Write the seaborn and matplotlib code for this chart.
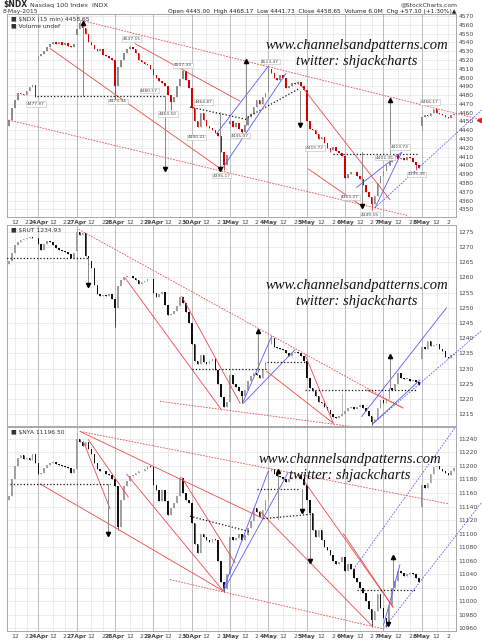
import numpy as np
import pandas as pd
import matplotlib
matplotlib.use("Agg")
import matplotlib.pyplot as plt
import seaborn as sns

# =====================================
# Data (30-min bars, 13 per session, bar 0 = 23Apr 9:30)
# =====================================
DAYS = ['23Apr', '24Apr', '27Apr', '28Apr', '29Apr', '30Apr',
        '1May', '4May', '5May', '6May', '7May', '8May']
FIRST_BAR = 3

ndx_close = [
    4452, 4465, 4475, 4482, 4481, 4480, 4485, 4489, 4492, 4478,
    4525, 4527, 4530, 4535, 4538, 4540, 4538, 4540, 4537, 4539, 4536, 4535, 4538,
    4555, 4562, 4556, 4550, 4540, 4537, 4533, 4530, 4532, 4526, 4524, 4522, 4520,
    4490, 4512, 4520, 4528, 4532, 4535, 4532, 4528, 4520, 4518, 4515, 4514, 4510,
    4503, 4500, 4496, 4494, 4490, 4480, 4472, 4478, 4490, 4498, 4507, 4497, 4488,
    4465, 4450, 4444, 4460, 4452, 4445, 4443, 4440, 4437, 4434, 4415, 4400, 4412,
    4450, 4444, 4448, 4442, 4438, 4446, 4455, 4458, 4466, 4475, 4470, 4478, 4482,
    4510, 4505, 4500, 4497, 4503, 4499, 4488, 4490, 4494, 4493, 4495, 4490, 4486,
    4450, 4442, 4440, 4436, 4430, 4432, 4425, 4420, 4418, 4421, 4416, 4414, 4411,
    4386, 4390, 4392, 4393, 4388, 4385, 4378, 4370, 4364, 4356, 4365, 4380, 4388,
    4394, 4400, 4404, 4410, 4412, 4407, 4408, 4406, 4410, 4408, 4404, 4400, 4397,
    4455, 4457, 4456, 4460, 4464, 4460, 4458, 4457, 4455, 4454, 4457, 4458.65,
]
ndx_open = {3: 4445, 13: 4520, 26: 4548, 78: 4447, 91: 4484, 143: 4445}
ndx_high = {27: 4565, 44: 4537, 62: 4509, 91: 4513.5}
ndx_low = {39: 4474, 58: 4463.5, 76: 4395, 82: 4435, 112: 4415.7, 126: 4349.5, 141: 4395.4, 143: 4440}

rut_close = [
    1265.5, 1268, 1270.5, 1271.5, 1272.3, 1272.5, 1273, 1273.3, 1272.8, 1273,
    1271, 1269, 1271, 1272, 1271.5, 1270.5, 1269.5, 1269, 1268.5, 1268.2, 1267.8, 1266.5, 1268,
    1275, 1274, 1274.5, 1267, 1265.5, 1263, 1257.5, 1254.5, 1254, 1254.3, 1253.8, 1254.5, 1253,
    1250, 1257, 1259, 1260, 1260.5, 1260.3, 1259.8, 1259, 1257.8, 1258.5, 1258.8, 1259.3, 1259.5,
    1255, 1253.5, 1254.5, 1255.2, 1251, 1247.5, 1248, 1249, 1250.5, 1253.5, 1251.5, 1248.5, 1245,
    1238, 1232.5, 1231.5, 1234.5, 1232, 1231.5, 1232.5, 1233, 1229.5, 1225, 1220.5, 1217.5, 1219,
    1228, 1225, 1224, 1222.5, 1221, 1223, 1226, 1227.5, 1228.5, 1228, 1227, 1230, 1232,
    1238, 1240, 1237, 1236.8, 1236.5, 1236, 1235, 1234, 1235, 1235.5, 1235, 1234, 1232.5,
    1227, 1223.5, 1222.5, 1221, 1219, 1218.5, 1217.5, 1216.5, 1215, 1214, 1213.8, 1214.5, 1215,
    1216, 1217, 1217.5, 1216.8, 1217.3, 1218, 1217, 1216, 1214.5, 1212.5, 1213.5, 1217, 1219.5,
    1218.5, 1220, 1223.5, 1223, 1225, 1228.5, 1227, 1226.5, 1226.5, 1226, 1226.3, 1225.5, 1224.5,
    1237, 1236.5, 1239, 1237.5, 1237.8, 1238.2, 1236.5, 1235.8, 1233.8, 1233.5, 1234.5, 1234.93,
]
rut_open = {3: 1264.5, 26: 1268.5, 143: 1233}
rut_high = {26: 1275.8, 92: 1240.8, 116: 1222}
rut_low = {39: 1243.5, 82: 1218.5, 126: 1211.5}

nya_close = [
    11155, 11180, 11200, 11212, 11216, 11210, 11212, 11208, 11218, 11205,
    11188, 11190, 11197, 11201, 11204, 11206, 11203, 11202, 11200, 11199, 11197, 11190, 11195,
    11240, 11236, 11230, 11235, 11225, 11218, 11205, 11195, 11192, 11192, 11188, 11187, 11180,
    11170, 11110, 11150, 11170, 11178, 11185, 11187, 11190, 11192, 11193, 11196, 11200, 11198,
    11172, 11165, 11148, 11165, 11148, 11128, 11138, 11145, 11155, 11182, 11160, 11150, 11145,
    11115, 11085, 11072, 11100, 11095, 11090, 11088, 11092, 11090, 11060, 11028, 11018, 11040,
    11095, 11090, 11093, 11100, 11090, 11098, 11108, 11118, 11138, 11132, 11125, 11135, 11150,
    11192, 11195, 11188, 11185, 11183, 11180, 11176, 11180, 11183, 11185, 11186, 11180, 11172,
    11150, 11130, 11105, 11095, 11105, 11090, 11080, 11075, 11068, 11060, 11055, 11058, 11065,
    11045, 11055, 11048, 11035, 11028, 11020, 11012, 11000, 10988, 10972, 10985, 11010, 10990,
    10975, 10970, 10995, 11020, 11030, 11045, 11042, 11038, 11040, 11042, 11040, 11035, 11028,
    11172, 11168, 11175, 11188, 11198, 11200, 11196, 11193, 11190, 11186, 11192, 11196.5,
]
nya_open = {3: 11150, 26: 11195, 104: 11172, 143: 11140}
nya_high = {26: 11248, 61: 11185, 92: 11197}
nya_low = {40: 11105, 76: 11014, 126: 10962, 131: 10962, 143: 11138}

# trendlines: (x0, y0, x1, y1, colour, style)
ndx_lines = [
    (27.7, 4565, 163.3, 4452, 'red', '--'),
    (0, 4454, 138, 4343, 'red', '--'),
    (17, 4533, 74, 4398, 'red', '-'),
    (45.8, 4538.5, 81.4, 4473, 'red', '-'),
    (102.3, 4490, 132.2, 4361, 'red', '-'),
    (104.5, 4396, 122.6, 4354, 'red', '-'),
    (12.4, 4479, 56, 4479, 'black', ':'),
    (64.4, 4466.5, 84, 4452, 'black', ':'),
    (84, 4455, 101.7, 4488, 'black', ':'),
    (113, 4413.5, 141.3, 4413.5, 'black', ':'),
    (73.4, 4436, 91, 4513, 'blue', '-'),
    (75.7, 4398, 97, 4505, 'blue', '-'),
    (120.9, 4375, 136.2, 4415, 'blue', '-'),
    (127.2, 4352, 136.2, 4415, 'blue', '-'),
    (127.2, 4352, 163.3, 4463, 'blue', '--'),
]
rut_lines = [
    (26.6, 1275.8, 136.7, 1217.0, 'red', '--'),
    (54.2, 1219.2, 146.9, 1207.4, 'red', '--'),
    (42.4, 1259.8, 75.1, 1216.4, 'red', '-'),
    (61.6, 1253.8, 81.4, 1218.6, 'red', '-'),
    (90.4, 1229.1, 113, 1212.0, 'red', '-'),
    (103.4, 1234.6, 113, 1212.0, 'red', '-'),
    (124.3, 1223, 136.7, 1217, 'red', '-'),
    (82.5, 1219.2, 92.1, 1240.6, 'blue', '-'),
    (82.5, 1218.6, 100, 1236.2, 'blue', '-'),
    (122.6, 1214.2, 151.4, 1250, 'blue', '-'),
    (126.6, 1212, 142.4, 1226.3, 'blue', '-'),
    (126.6, 1212, 163.3, 1242.5, 'blue', '--'),
    (65, 1230, 90.4, 1230, 'black', ':'),
    (90.4, 1232.1, 103.4, 1232.1, 'black', ':'),
    (103.4, 1223, 141.2, 1223, 'black', ':'),
    (0, 1266.4, 30, 1266.4, 'black', ':'),
]
nya_lines = [
    (27.1, 11251, 152, 11144, 'red', '--'),
    (27.1, 11251, 89.3, 11122, 'red', '-'),
    (13.6, 11173.3, 39.5, 11107.6, 'red', '-'),
    (39.5, 11107.6, 75.7, 11015.2, 'red', '-'),
    (28.2, 11236.6, 37.3, 11136.8, 'red', '-'),
    (29.9, 11239, 43.5, 11153.9, 'red', '-'),
    (42.9, 11188, 75.7, 11015, 'red', '-'),
    (61.6, 11183, 79.7, 11056.5, 'red', '-'),
    (103.4, 11175.8, 133.3, 10991, 'red', '-'),
    (116.4, 11100, 133.3, 10991, 'red', '-'),
    (88.1, 11133, 126, 10964, 'red', '-'),
    (57.6, 11032, 130, 10959, 'red', '--'),
    (75.7, 11017.6, 91, 11192.8, 'blue', '-'),
    (75.7, 11015, 97.7, 11190.4, 'blue', '-'),
    (130, 10964, 135.6, 11054, 'blue', '-'),
    (119.8, 11046.8, 154.2, 11256, 'blue', '--'),
    (130, 10959.2, 163.3, 11146, 'blue', '--'),
    (3.4, 11173.3, 37.3, 11173.3, 'black', ':'),
    (64.4, 11125.6, 84.7, 11102.8, 'black', ':'),
    (87, 11166, 101.7, 11166, 'black', ':'),
    (89.3, 11122, 105.6, 11128.6, 'black', ':'),
    (120.9, 11016.6, 141.2, 11016.6, 'black', ':'),
]

# target arrows: (x, from, to)
ndx_arrows = [(28, 4479, 4562), (56, 4479, 4396), (74.6, 4461, 4396), (83.3, 4446, 4519),
              (101.7, 4485, 4446), (122.6, 4415, 4354), (132.2, 4400, 4475)]
rut_arrows = [(87.6, 1229, 1242.3), (132.2, 1223.6, 1234), (30, 1266.4, 1257.5)]
nya_arrows = [(36.7, 11173, 11100), (94.4, 11122, 11193), (102.3, 11166, 11134),
              (105.1, 11127, 11059), (133.3, 11017.6, 11066), (131.6, 10993, 10966)]

ndx_tags = [(12.2, 4470, '4477.87'), (40, 4473, '4473.94'), (44.6, 4544, '4537.15'),
            (50.6, 4485, '4480.57'), (57, 4458.5, '4463.50'), (62, 4514, '4507.33'),
            (69, 4472, '4464.87'), (66.7, 4432, '4400.21'), (75.1, 4388.5, '4395.17'),
            (81.4, 4434, '4435.07'), (91.6, 4518, '4513.47'), (106.8, 4420, '4415.72'),
            (118.7, 4363.5, '4363.27'), (125.5, 4344, '4349.55'), (130.5, 4409, '4402.35'),
            (135.6, 4421, '4413.73'), (141.3, 4390, '4395.36'), (145.8, 4472, '4466.17')]

# =====================================
# Helpers
# =====================================
W, H = 482, 640


def px_rect(l, t, r, b):
    return [l / W, 1 - b / H, (r - l) / W, (b - t) / H]


def draw_candles(ax, close, opens, highs, lows, up_col, down_col):
    close = np.asarray(close, dtype=float)
    idx = np.arange(FIRST_BAR, FIRST_BAR + len(close))
    op = np.r_[close[0], close[:-1]]
    for k, v in opens.items():
        op[k - FIRST_BAR] = v
    df = pd.DataFrame({'x': idx, 'open': op, 'close': close})
    df['top'] = df[['open', 'close']].max(axis=1)
    df['bot'] = df[['open', 'close']].min(axis=1)
    df['hi'] = [max(t, highs.get(x, t)) for x, t in zip(df.x, df.top)]
    df['lo'] = [min(b, lows.get(x, b)) for x, b in zip(df.x, df.bot)]
    df['col'] = np.where(df.close >= df.open, up_col, down_col)
    ax.vlines(df.x, df.lo, df.hi, colors=df.col, lw=0.5, zorder=3)
    span = ax.get_ylim()[1] - ax.get_ylim()[0]
    ax.bar(df.x, np.maximum(df.top - df.bot, span * 0.004), bottom=df.bot,
           width=0.55, color=df.col, lw=0, zorder=3)


def draw_lines(ax, lines):
    cmap = {'red': '#f04848', 'blue': '#5a5aff', 'black': '#111111'}
    for x0, y0, x1, y1, c, ls in lines:
        kw = dict(color=cmap[c], lw=0.6, zorder=4, clip_on=(x1 < 156))
        if ls == '--':
            kw.update(ls='--', dashes=(2, 1.5))
        elif ls == ':':
            kw.update(ls=':', lw=0.9)
        ax.plot([x0, x1], [y0, y1], **kw)


def draw_arrows(ax, arrows):
    for x, a, b in arrows:
        ax.plot([x, x], [a, b], color='#8a8a8a', lw=0.7, zorder=4)
        ax.plot(x, b, marker='^' if b > a else 'v', ms=3, color='black', zorder=5)


def style_axis(ax, ylim, yticks, show_x):
    ax.set_xlim(2.37, 154.6)
    ax.set_ylim(*ylim)
    ticks, labels = [], []
    for d, name in enumerate(DAYS):
        if d > 0:
            ticks.append(d * 13)
            labels.append(name)
        ticks += [d * 13 + 5, d * 13 + 9]
        labels += ['12', '2']
    ax.set_xticks(ticks)
    ax.set_xticklabels(labels if show_x else [])
    for t in ax.get_xticklabels():
        if t.get_text() not in ('12', '2'):
            t.set_fontweight('bold')
    ax.set_yticks(yticks)
    ax.yaxis.tick_right()
    ax.tick_params(axis='both', length=0, labelsize=4.3, colors='#444444', pad=2)
    ax.grid(True, color='#e4e4e4', lw=0.5)
    for d in range(1, len(DAYS)):
        ax.axvline(d * 13, color='#bdbdbd', lw=0.7, zorder=1)
    for s in ax.spines.values():
        s.set_color('#9a9a9a')
        s.set_linewidth(0.6)


# =====================================
# Figure
# =====================================
sns.set_theme(style="white")
plt.rcParams['font.family'] = ['DejaVu Sans']

fig = plt.figure(figsize=(W / 100, H / 100), dpi=100)
ax1 = fig.add_axes(px_rect(7, 14, 456, 217))
ax2 = fig.add_axes(px_rect(7, 225, 456, 426))
ax3 = fig.add_axes(px_rect(7, 427, 456, 631))

style_axis(ax1, (4341.3, 4572.3), np.arange(4350, 4571, 10), True)
style_axis(ax2, (1211.1, 1277.2), np.arange(1215, 1276, 5), False)
style_axis(ax3, (10956, 11257.5), np.arange(10960, 11241, 20), True)

draw_candles(ax1, ndx_close, ndx_open, ndx_high, ndx_low, '#8c8c8c', '#d40000')
draw_candles(ax2, rut_close, rut_open, rut_high, rut_low, '#a0a0a0', '#111111')
draw_candles(ax3, nya_close, nya_open, nya_high, nya_low, '#a0a0a0', '#111111')

draw_lines(ax1, ndx_lines)
draw_lines(ax2, rut_lines)
draw_lines(ax3, nya_lines)
draw_arrows(ax1, ndx_arrows)
draw_arrows(ax2, rut_arrows)
draw_arrows(ax3, nya_arrows)

for x, y, s in ndx_tags:
    ax1.text(x, y, s, fontsize=3.2, ha='center', va='center', color='#444444', zorder=6,
             bbox=dict(boxstyle='square,pad=0.15', fc='white', ec='#bbbbbb', lw=0.4))

# red marker for last price, outside the plot
ax1.plot(162.5, 4452, marker='<', ms=3, color='#e02020', clip_on=False, zorder=6)

# legends inside panels
ax1.text(0.008, 0.985, '\u25a0 $NDX (15 min) 4458.65', transform=ax1.transAxes,
         fontsize=4.3, va='top', color='#333333')
ax1.text(0.008, 0.955, '\u25a0 Volume undef', transform=ax1.transAxes,
         fontsize=4.3, va='top', color='#333333')
ax2.text(0.008, 0.985, '\u25a0 $RUT 1234.93', transform=ax2.transAxes,
         fontsize=4.3, va='top', color='#333333')
ax3.text(0.008, 0.985, '\u25a0 $NYA 11196.50', transform=ax3.transAxes,
         fontsize=4.3, va='top', color='#333333')

# header
fig.text(3 / W, 1 - 5 / H, '$NDX', fontsize=5.5, weight='bold', va='center')
fig.text(30 / W, 1 - 5 / H, 'Nasdaq 100 Index  INDX', fontsize=4.6, va='center', color='#333333')
fig.text(3 / W, 1 - 11 / H, '8-May-2015', fontsize=4.3, va='center', color='#333333')
fig.text(458 / W, 1 - 5 / H, '@StockCharts.com', fontsize=4.3, va='center', ha='right', color='#333333')
fig.text(456 / W, 1 - 11 / H,
         'Open 4445.00  High 4468.17  Low 4441.73  Close 4458.65  Volume 6.0M  Chg +57.10 (+1.30%)\u25b2',
         fontsize=4.2, va='center', ha='right', color='#222222')

# watermark
for yc1, yc2, xc in [(46, 62, 357), (286, 301, 357), (460, 475, 350)]:
    fig.text(xc / W, 1 - yc1 / H, 'www.channelsandpatterns.com', fontsize=10.5,
             family='Liberation Serif', style='italic', ha='center', va='center', color='#111111')
    fig.text(xc / W, 1 - yc2 / H, 'twitter: shjackcharts', fontsize=10.5,
             family='Liberation Serif', style='italic', ha='center', va='center', color='#111111')

fig.savefig('out.png', dpi=100, facecolor='white')
